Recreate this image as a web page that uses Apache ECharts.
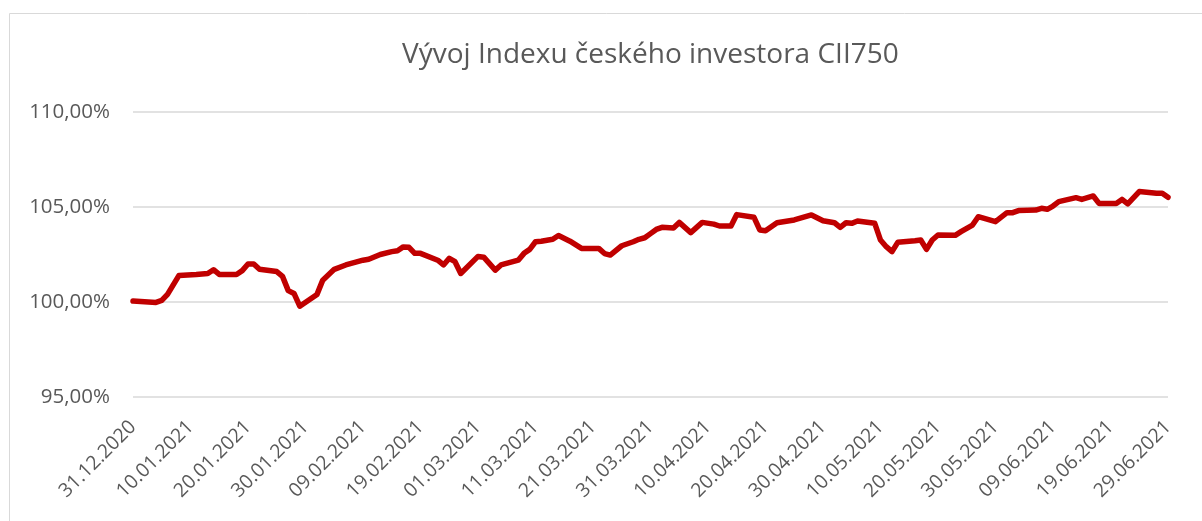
<!DOCTYPE html>
<html>
<head>
<meta charset="utf-8">
<script src="https://cdn.jsdelivr.net/npm/echarts@6/dist/echarts.min.js"></script>
<style>
  html, body { margin: 0; padding: 0; background: #fff; }
  #chart { width: 1202px; height: 521px; }
</style>
</head>
<body>
<div id="chart"></div>
<script>
// trading dates and index values (in %)
const dates = [
  '31.12.2020', '04.01.2021', '05.01.2021', '06.01.2021', '08.01.2021', '11.01.2021', '13.01.2021', '14.01.2021',
  '15.01.2021', '18.01.2021', '19.01.2021', '20.01.2021', '21.01.2021', '22.01.2021', '25.01.2021', '26.01.2021',
  '27.01.2021', '28.01.2021', '29.01.2021', '01.02.2021', '02.02.2021', '04.02.2021', '06.02.2021', '09.02.2021',
  '10.02.2021', '12.02.2021', '14.02.2021', '15.02.2021', '16.02.2021', '17.02.2021', '18.02.2021', '19.02.2021',
  '22.02.2021', '23.02.2021', '24.02.2021', '25.02.2021', '26.02.2021', '01.03.2021', '02.03.2021', '04.03.2021',
  '05.03.2021', '08.03.2021', '09.03.2021', '10.03.2021', '11.03.2021', '12.03.2021', '14.03.2021', '15.03.2021',
  '17.03.2021', '19.03.2021', '22.03.2021', '23.03.2021', '24.03.2021', '26.03.2021', '28.03.2021', '29.03.2021',
  '30.03.2021', '31.03.2021', '01.04.2021', '02.04.2021', '04.04.2021', '05.04.2021', '07.04.2021', '09.04.2021',
  '11.04.2021', '12.04.2021', '14.04.2021', '15.04.2021', '18.04.2021', '19.04.2021', '20.04.2021', '22.04.2021',
  '25.04.2021', '28.04.2021', '30.04.2021', '02.05.2021', '03.05.2021', '04.05.2021', '05.05.2021', '06.05.2021',
  '09.05.2021', '10.05.2021', '11.05.2021', '12.05.2021', '13.05.2021', '16.05.2021', '17.05.2021', '18.05.2021',
  '19.05.2021', '20.05.2021', '23.05.2021', '24.05.2021', '26.05.2021', '27.05.2021', '30.05.2021', '01.06.2021',
  '02.06.2021', '03.06.2021', '06.06.2021', '07.06.2021', '08.06.2021', '09.06.2021', '10.06.2021', '13.06.2021',
  '14.06.2021', '16.06.2021', '17.06.2021', '20.06.2021', '21.06.2021', '22.06.2021', '24.06.2021', '27.06.2021',
  '28.06.2021', '29.06.2021'
]
const values = [
  100.05, 99.98, 100.08, 100.4, 101.4, 101.45, 101.5, 101.7,
  101.45, 101.45, 101.65, 102.0, 102.0, 101.72, 101.6, 101.35,
  100.6, 100.45, 99.78, 100.4, 101.15, 101.72, 101.95, 102.2,
  102.25, 102.5, 102.65, 102.7, 102.9, 102.88, 102.56, 102.56,
  102.2, 101.95, 102.3, 102.12, 101.5, 102.4, 102.36, 101.68,
  101.95, 102.2, 102.56, 102.77, 103.17, 103.2, 103.3, 103.5,
  103.2, 102.82, 102.82, 102.55, 102.47, 102.96, 103.17, 103.3,
  103.38, 103.6, 103.82, 103.93, 103.9, 104.19, 103.65, 104.19,
  104.1, 104.0, 104.0, 104.6, 104.46, 103.79, 103.75, 104.17,
  104.32, 104.58, 104.28, 104.17, 103.93, 104.17, 104.14, 104.26,
  104.14, 103.26, 102.91, 102.65, 103.14, 103.22, 103.26, 102.77,
  103.26, 103.53, 103.51, 103.7, 104.05, 104.49, 104.23, 104.7,
  104.7, 104.81, 104.84, 104.93, 104.88, 105.05, 105.28, 105.49,
  105.4, 105.58, 105.19, 105.19, 105.4, 105.16, 105.81, 105.72,
  105.72, 105.51
]
const startDate = '31.12.2020'
const endDate = '29.06.2021'
const yTicks = [95, 100, 105, 110]
const titleText = 'Vývoj Indexu českého investora CII750'

const DAY = 86400000
function parse(s) {
  const [d, m, y] = s.split('.').map(Number)
  return Date.UTC(y, m - 1, d)
}
function fmt(t) {
  const dt = new Date(t)
  const p = n => String(n).padStart(2, '0')
  return p(dt.getUTCDate()) + '.' + p(dt.getUTCMonth() + 1) + '.' + dt.getUTCFullYear()
}
const base = parse(startDate)
const span = (parse(endDate) - base) / DAY
const seriesData = dates.map((d, i) => [(parse(d) - base) / DAY, values[i]])

const chart = echarts.init(document.getElementById('chart'))
chart.setOption({
  animation: false,
  textStyle: { fontFamily: 'Open Sans' },
  title: {
    text: titleText, left: 397, top: 36,
    textStyle: { fontFamily: 'Open Sans', fontSize: 28, fontWeight: 'normal', color: '#595959' }
  },
  graphic: [{
    type: 'rect', silent: true,
    shape: { x: 9.5, y: 13.5, width: 1400, height: 700 },
    style: { fill: 'none', stroke: '#d9d9d9', lineWidth: 1 }
  }],
  grid: { left: 133, right: 34, top: 112, bottom: 124 },
  xAxis: {
    type: 'value', min: 0, max: span, interval: 10,
    axisLine: { show: false }, axisTick: { show: false }, splitLine: { show: false },
    axisLabel: {
      rotate: 45, margin: 27, color: '#595959', fontSize: 19.5,
      formatter: v => fmt(base + v * DAY)
    }
  },
  yAxis: {
    type: 'value', min: yTicks[0], max: yTicks[yTicks.length - 1], interval: 5,
    axisLine: { show: false }, axisTick: { show: false },
    splitLine: { lineStyle: { color: '#d9d9d9', width: 1.5 } },
    axisLabel: {
      color: '#595959', fontSize: 20.5, margin: 23,
      formatter: v => v.toFixed(2).replace('.', ',') + '%'
    }
  },
  series: [{
    type: 'line', data: seriesData, showSymbol: false,
    lineStyle: { color: '#c00000', width: 5.5, join: 'round', cap: 'round' },
    itemStyle: { color: '#c00000' }
  }]
})
</script>
</body>
</html>
